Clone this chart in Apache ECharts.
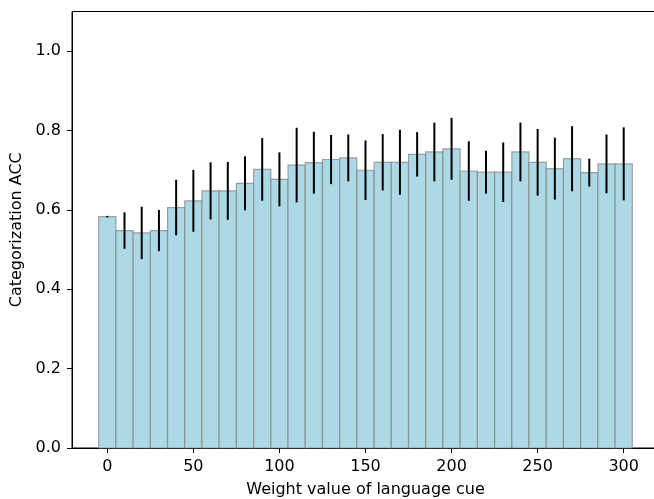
<!DOCTYPE html>
<html lang="en">
<head>
    <meta charset="UTF-8">
    <title>Categorization ACC</title>
    <script src="https://cdn.jsdelivr.net/npm/echarts@6/dist/echarts.min.js"></script>
    <style>
        body { margin: 0; background: #fff; }
        #main { width: 654px; height: 499px; }
    </style>
</head>
<body>
<div id="main"></div>
<script type="text/javascript">
    // weight values (bar centres), accuracy and error (half length of bar)
    var weights = [0, 10, 20, 30, 40, 50, 60, 70, 80, 90, 100, 110, 120, 130, 140, 150,
        160, 170, 180, 190, 200, 210, 220, 230, 240, 250, 260, 270, 280, 290, 300];
    var acc = [0.583, 0.548, 0.542, 0.548, 0.606, 0.623, 0.648, 0.648, 0.667, 0.702, 0.677,
        0.713, 0.719, 0.727, 0.731, 0.700, 0.720, 0.720, 0.740, 0.746, 0.754, 0.698,
        0.695, 0.695, 0.746, 0.720, 0.704, 0.729, 0.694, 0.716, 0.716];
    var err = [0.002, 0.046, 0.066, 0.052, 0.070, 0.078, 0.072, 0.073, 0.068, 0.079, 0.068,
        0.094, 0.078, 0.062, 0.059, 0.075, 0.071, 0.082, 0.056, 0.074, 0.078, 0.075,
        0.054, 0.075, 0.074, 0.084, 0.078, 0.082, 0.035, 0.074, 0.092];
    var xTicks = [0, 50, 100, 150, 200, 250, 300];
    var yTicks = [0, 0.2, 0.4, 0.6, 0.8, 1.0];

    var halfWidth = 5;
    var font = 'DejaVu Sans';

    var chartDom = document.getElementById('main');
    var myChart = echarts.init(chartDom);

    var barData = weights.map(function (w, i) { return [w, acc[i]]; });
    var errData = weights.map(function (w, i) { return [w, acc[i], err[i]]; });

    var option = {
        animation: false,
        grid: {
            left: 72,
            top: 11.5,
            width: 587,
            height: 436.5,
            outerBoundsMode: 'none',
            containLabel: false,
            show: true,
            borderColor: '#000',
            borderWidth: 1,
            backgroundColor: 'transparent'
        },
        xAxis: {
            type: 'value',
            min: -20.5,
            max: 320.5,
            name: 'Weight value of language cue',
            nameLocation: 'middle',
            nameGap: 34,
            nameTextStyle: { fontFamily: font, fontSize: 16, color: '#000' },
            splitLine: { show: false },
            axisLine: { show: true, onZero: false, lineStyle: { color: '#000', width: 1 } },
            axisTick: { show: true, length: 5, customValues: xTicks, lineStyle: { color: '#000' } },
            axisLabel: {
                customValues: xTicks,
                margin: 11,
                fontFamily: font,
                fontSize: 16,
                color: '#000'
            }
        },
        yAxis: {
            type: 'value',
            min: 0,
            max: 1.1,
            name: 'Categorization ACC',
            nameLocation: 'middle',
            nameGap: 39,
            nameTextStyle: { fontFamily: font, fontSize: 16, color: '#000' },
            splitLine: { show: false },
            axisLine: { show: true, onZero: false, lineStyle: { color: '#000', width: 1 } },
            axisTick: { show: true, length: 5, customValues: yTicks, lineStyle: { color: '#000' } },
            axisLabel: {
                customValues: yTicks,
                margin: 11,
                fontFamily: font,
                fontSize: 16,
                color: '#000',
                formatter: function (v) { return v.toFixed(1); }
            }
        },
        series: [
            {
                type: 'custom',
                z: 2,
                data: barData,
                renderItem: function (params, api) {
                    var x = api.value(0);
                    var v = api.value(1);
                    var p0 = api.coord([x - halfWidth, 0]);
                    var p1 = api.coord([x + halfWidth, v]);
                    return {
                        type: 'rect',
                        shape: { x: p0[0], y: p1[1], width: p1[0] - p0[0], height: p0[1] - p1[1] },
                        style: { fill: '#add8e6', stroke: 'rgba(128,128,128,0.7)', lineWidth: 1.2 }
                    };
                }
            },
            {
                type: 'custom',
                z: 3,
                data: errData,
                renderItem: function (params, api) {
                    var x = api.value(0);
                    var v = api.value(1);
                    var e = api.value(2);
                    var lo = api.coord([x, v - e]);
                    var hi = api.coord([x, v + e]);
                    return {
                        type: 'line',
                        shape: { x1: lo[0], y1: lo[1], x2: hi[0], y2: hi[1] },
                        style: { stroke: '#000', lineWidth: 2 }
                    };
                }
            }
        ]
    };

    option && myChart.setOption(option);
</script>
</body>
</html>
